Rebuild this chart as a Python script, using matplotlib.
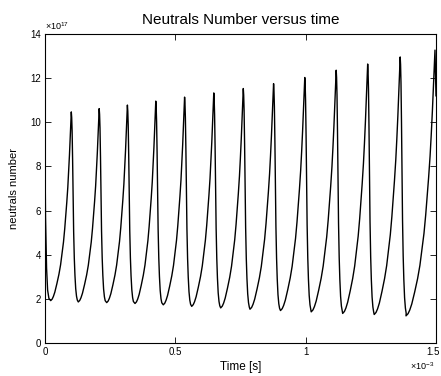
import matplotlib
matplotlib.use("Agg")
import matplotlib.pyplot as plt
from matplotlib import transforms

plt.rcParams['font.family'] = ['Liberation Sans', 'DejaVu Sans']
plt.rcParams['mathtext.fontset'] = 'custom'
plt.rcParams['mathtext.rm'] = 'Liberation Sans'
plt.rcParams['mathtext.it'] = 'Liberation Sans'

# time in 1e-3 s, neutrals in 1e17
start_t = [0.0, 0.002, 0.006, 0.010, 0.015]
start_n = [8.44, 5.7, 3.4, 2.4, 2.02]

trough_t = [0.0219, 0.1277, 0.2367, 0.3453, 0.4538, 0.5628, 0.6740,
            0.7864, 0.9034, 1.0212, 1.1420, 1.2629, 1.3849]
trough_n = [1.92, 1.86, 1.83, 1.79, 1.73, 1.66, 1.59,
            1.53, 1.47, 1.41, 1.34, 1.29, 1.23]

peak_t = [0.1009, 0.2079, 0.3161, 0.4250, 0.5355, 0.6475, 0.7607,
          0.8769, 0.9966, 1.1171, 1.2379, 1.3626, 1.4961]
peak_n = [10.47, 10.62, 10.78, 10.96, 11.14, 11.33, 11.53,
          11.75, 12.03, 12.36, 12.64, 12.96, 13.27]

end_t = [1.5]
end_n = [11.2]

# shape of one rise (fraction of rise time -> fraction of rise height)
rise_u = [0.07, 0.13, 0.2, 0.3, 0.4, 0.48, 0.55, 0.62, 0.68, 0.73, 0.78, 0.83, 0.87, 0.91, 0.94, 0.97]
rise_f = [0.008, 0.022, 0.045, 0.09, 0.14, 0.19, 0.25, 0.31, 0.38, 0.45, 0.52, 0.60, 0.68, 0.77, 0.85, 0.93]
# shape of the fall after a peak (time after peak -> fraction above next trough)
fall_dt = [0.0015, 0.0031, 0.0050, 0.0069, 0.0090, 0.0115, 0.0140, 0.0169, 0.0200, 0.0230]
fall_f = [0.97, 0.9, 0.75, 0.55, 0.37, 0.23, 0.14, 0.07, 0.03, 0.01]

t = list(start_t)
n = list(start_n)
for i in range(len(peak_t)):
    t0, n0 = trough_t[i], trough_n[i]
    t1, n1 = peak_t[i], peak_n[i]
    t.append(t0); n.append(n0)
    for u, f in zip(rise_u, rise_f):
        t.append(t0 + u * (t1 - t0))
        n.append(n0 + f * (n1 - n0))
    t.append(t1); n.append(n1)
    if i < len(peak_t) - 1:
        nn = trough_n[i + 1]
        for dt, f in zip(fall_dt, fall_f):
            t.append(t1 + dt)
            n.append(nn + f * (n1 - nn))
t += end_t
n += end_n

fig = plt.figure(figsize=(4.41, 3.76), dpi=100)
ax = fig.add_axes([45 / 441, 33 / 376, 391 / 441, 309 / 376])

ax.plot(t, n, color='black', lw=1.0)

ax.set_xlim(0, 1.5)
ax.set_ylim(0, 14)
ax.set_xticks([0, 0.5, 1, 1.5])
ax.set_xticklabels(['0', '0.5', '1', '1.5'])
ax.set_yticks(range(0, 15, 2))
ax.set_yticklabels([str(v) for v in range(0, 15, 2)])
ax.tick_params(direction='in', top=True, right=True, length=4, width=0.6,
               labelsize=7, pad=3)
for s in ax.spines.values():
    s.set_linewidth(0.8)

# keep the last x tick label inside the figure
last = ax.get_xticklabels()[-1]
last.set_transform(last.get_transform() +
                   transforms.ScaledTranslation(-3 / 100, 0, fig.dpi_scale_trans))

ax.set_title('Neutrals Number versus time', fontsize=11, pad=7)
ax.set_xlabel('Time [s]', fontsize=8.5, labelpad=3)
ax.set_ylabel('neutrals number', fontsize=8, labelpad=8)

ax.text(0.0, 1.008, r'$\times10^{17}$', transform=ax.transAxes,
        fontsize=6.5, ha='left', va='bottom')
ax.text(0.995, -0.055, r'$\times10^{-3}$', transform=ax.transAxes,
        fontsize=6.5, ha='right', va='top')

fig.savefig('out.png', dpi=100)
